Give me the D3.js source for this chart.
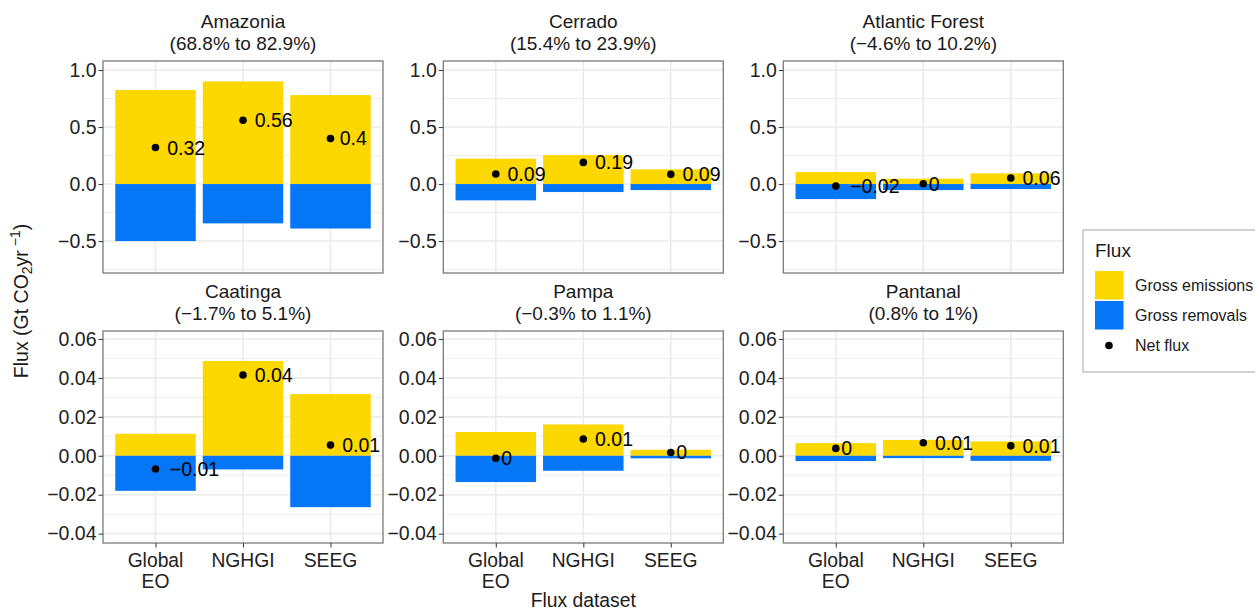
<!DOCTYPE html>
<html lang="en">
<head>
<meta charset="utf-8">
<title>Flux by biome and dataset</title>
<script src="https://cdn.jsdelivr.net/npm/d3@7"></script>
<style>
  body { margin: 0; background: #fff; }
  text { font-family: "Liberation Sans", Arial, sans-serif; }
</style>
</head>
<body>
<script>
// data
var biomes = ["Amazonia", "Cerrado", "Atlantic Forest", "Caatinga", "Pampa", "Pantanal"];
var shares = ["(68.8% to 82.9%)", "(15.4% to 23.9%)", "(\u22124.6% to 10.2%)",
              "(\u22121.7% to 5.1%)", "(\u22120.3% to 1.1%)", "(0.8% to 1%)"];
var datasets = ["Global EO", "NGHGI", "SEEG"];
var emissions = [
  [0.825, 0.90, 0.78],
  [0.222, 0.254, 0.129],
  [0.105, 0.047, 0.094],
  [0.0113, 0.0487, 0.0317],
  [0.0122, 0.0161, 0.0031],
  [0.0065, 0.0081, 0.0074]
];
var removals = [
  [-0.50, -0.345, -0.39],
  [-0.143, -0.07, -0.053],
  [-0.132, -0.053, -0.044],
  [-0.018, -0.007, -0.0264],
  [-0.0135, -0.0077, -0.0013],
  [-0.0027, -0.0012, -0.0026]
];
var netFlux = [
  [0.32, 0.56, 0.40],
  [0.088, 0.19, 0.085],
  [-0.018, 0.003, 0.053],
  [-0.0068, 0.0415, 0.0055],
  [-0.0013, 0.0086, 0.0017],
  [0.0038, 0.0067, 0.0051]
];
var netLabels = [
  ["0.32", "0.56", "0.4"],
  ["0.09", "0.19", "0.09"],
  ["\u22120.02", "0", "0.06"],
  ["\u22120.01", "0.04", "0.01"],
  ["0", "0.01", "0"],
  ["0", "0.01", "0.01"]
];
var rowTicks = [[-0.5, 0, 0.5, 1.0], [-0.04, -0.02, 0, 0.02, 0.04, 0.06]];
var rowMinor = [[-0.75, -0.25, 0.25, 0.75], [-0.03, -0.01, 0.01, 0.03, 0.05]];
var rowDomain = [[-0.78, 1.079], [-0.0448, 0.0641]];
var rowFormat = [d3.format(".1f"), d3.format(".2f")];
var legendItems = ["Gross emissions", "Gross removals", "Net flux"];

var W = 1255, H = 611;
var colLeft = [103, 443.3, 783.3], panelW = 280;
var rowTop = [61, 331], panelH = 212;
var yellow = "#FCD700", blue = "#0576F6", grid = "#EBEBEB";

var svg = d3.select("body").append("svg")
    .attr("width", W)
    .attr("height", H);

var x = d3.scalePoint()
    .domain(datasets)
    .range([0, panelW])
    .padding(0.6);
var barW = x.step() * 0.92;

biomes.forEach(function(b, i) {
  var row = Math.floor(i / 3), col = i % 3;
  var g = svg.append("g")
      .attr("transform", "translate(" + colLeft[col] + "," + rowTop[row] + ")");
  var y = d3.scaleLinear().domain(rowDomain[row]).range([panelH, 0]);

  // strip title
  g.append("text")
      .attr("x", panelW / 2).attr("y", -33)
      .attr("text-anchor", "middle")
      .attr("font-size", "19px").attr("fill", "#1a1a1a")
      .text(b);
  g.append("text")
      .attr("x", panelW / 2).attr("y", -11.5)
      .attr("text-anchor", "middle")
      .attr("font-size", "19px").attr("fill", "#1a1a1a")
      .text(shares[i]);

  // grid
  g.selectAll(".minor").data(rowMinor[row]).enter().append("line")
      .attr("x1", 0).attr("x2", panelW)
      .attr("y1", function(d) { return y(d); }).attr("y2", function(d) { return y(d); })
      .attr("stroke", grid).attr("stroke-width", 0.9);
  g.selectAll(".major").data(rowTicks[row]).enter().append("line")
      .attr("x1", 0).attr("x2", panelW)
      .attr("y1", function(d) { return y(d); }).attr("y2", function(d) { return y(d); })
      .attr("stroke", grid).attr("stroke-width", 1.6);
  g.selectAll(".vgrid").data(datasets).enter().append("line")
      .attr("x1", function(d) { return x(d); }).attr("x2", function(d) { return x(d); })
      .attr("y1", 0).attr("y2", panelH)
      .attr("stroke", grid).attr("stroke-width", 1.6);

  // bars
  g.selectAll(".em").data(emissions[i]).enter().append("rect")
      .attr("x", function(d, j) { return x(datasets[j]) - barW / 2; })
      .attr("width", barW)
      .attr("y", function(d) { return y(d); })
      .attr("height", function(d) { return y(0) - y(d); })
      .attr("fill", yellow);
  g.selectAll(".rm").data(removals[i]).enter().append("rect")
      .attr("x", function(d, j) { return x(datasets[j]) - barW / 2; })
      .attr("width", barW)
      .attr("y", y(0))
      .attr("height", function(d) { return y(d) - y(0); })
      .attr("fill", blue);

  // net flux points and labels
  g.selectAll(".pt").data(netFlux[i]).enter().append("circle")
      .attr("cx", function(d, j) { return x(datasets[j]); })
      .attr("cy", function(d) { return y(d); })
      .attr("r", 3.8)
      .attr("fill", "#000");
  g.selectAll(".lab").data(netFlux[i]).enter().append("text")
      .attr("y", function(d) { return y(d); })
      .attr("dy", "0.36em")
      .attr("font-size", "19.5px").attr("fill", "#000")
      .text(function(d, j) { return netLabels[i][j]; })
      .attr("x", function(d, j) {
        var w = this.getComputedTextLength();
        return x(datasets[j]) + 3 + 0.23 * w;
      });

  // panel border
  g.append("rect")
      .attr("width", panelW).attr("height", panelH)
      .attr("fill", "none").attr("stroke", "#7a7a7a").attr("stroke-width", 1.3);

  // y axis
  var ya = g.append("g").call(d3.axisLeft(y)
      .tickValues(rowTicks[row]).tickFormat(rowFormat[row])
      .tickSize(4.5).tickPadding(2));
  ya.select(".domain").remove();
  ya.selectAll(".tick line").attr("stroke", "#444").attr("stroke-width", 1.1);
  ya.selectAll(".tick text")
      .attr("font-size", "19.5px").attr("fill", "#222")
      .style("font-family", "'Liberation Sans', Arial, sans-serif");

  // x axis on the bottom row only
  if (row === 1) {
    var xa = g.append("g").attr("transform", "translate(0," + panelH + ")")
        .call(d3.axisBottom(x).tickSize(4.5).tickFormat(""));
    xa.select(".domain").remove();
    xa.selectAll(".tick line").attr("stroke", "#444").attr("stroke-width", 1.1);
    datasets.forEach(function(d) {
      var parts = d === "Global EO" ? ["Global", "EO"] : [d];
      parts.forEach(function(p, k) {
        g.append("text")
            .attr("x", x(d)).attr("y", panelH + 24 + k * 20.5)
            .attr("text-anchor", "middle")
            .attr("font-size", "19.3px").attr("fill", "#222")
            .text(p);
      });
    });
  }
});

// axis titles
svg.append("text")
    .attr("x", colLeft[1] + panelW / 2).attr("y", 607)
    .attr("text-anchor", "middle")
    .attr("font-size", "19.3px").attr("fill", "#1a1a1a")
    .text("Flux dataset");

var yt = svg.append("text")
    .attr("transform", "translate(28,301) rotate(-90)")
    .attr("text-anchor", "middle")
    .attr("font-size", "19.5px").attr("fill", "#1a1a1a");
yt.append("tspan").text("Flux (Gt CO");
yt.append("tspan").attr("font-size", "14px").attr("dy", 4).text("2");
yt.append("tspan").attr("dy", -4).text("yr");
yt.append("tspan").attr("font-size", "14px").attr("dy", -8).text(" \u22121");
yt.append("tspan").attr("dy", 8).text(")");

// legend
var lg = svg.append("g").attr("transform", "translate(1083,230)");
lg.append("rect")
    .attr("width", 200).attr("height", 142)
    .attr("fill", "#fff").attr("stroke", "#c4c4c4").attr("stroke-width", 1.5);
lg.append("text")
    .attr("x", 12).attr("y", 27)
    .attr("font-size", "19px").attr("fill", "#1a1a1a")
    .text("Flux");
var keyColors = [yellow, blue];
legendItems.forEach(function(name, k) {
  var ky = 41 + k * 30;
  if (k < 2) {
    lg.append("rect")
        .attr("x", 12).attr("y", ky)
        .attr("width", 28.5).attr("height", 28.5)
        .attr("fill", keyColors[k]);
  } else {
    lg.append("circle")
        .attr("cx", 26).attr("cy", ky + 14.5).attr("r", 3.8)
        .attr("fill", "#000");
  }
  lg.append("text")
      .attr("x", 52).attr("y", ky + 14.5).attr("dy", "0.36em")
      .attr("font-size", "16px").attr("fill", "#1a1a1a")
      .text(name);
});
</script>
</body>
</html>
